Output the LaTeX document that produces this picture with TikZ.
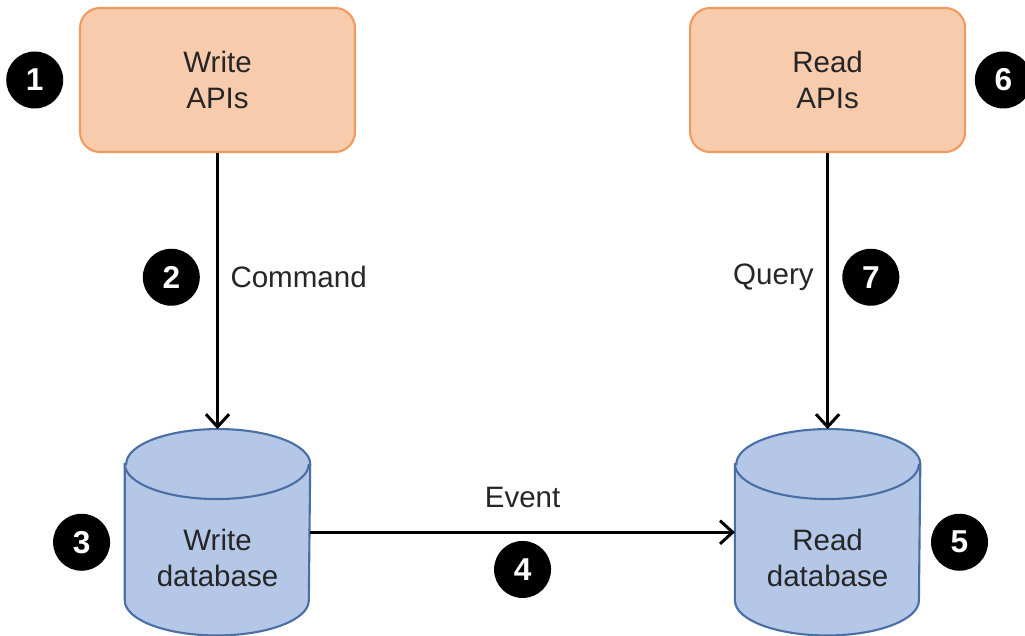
\documentclass[tikz,border=0pt]{standalone}
\usepackage{fontspec}
\setmainfont{Liberation Sans}
\usetikzlibrary{positioning,calc,arrows.meta}

\definecolor{apifill}{HTML}{F8CBAD}
\definecolor{apiline}{HTML}{F19A5E}
\definecolor{dbfill}{HTML}{B4C7E7}
\definecolor{dbline}{HTML}{4A6FA5}
\definecolor{txt}{HTML}{262626}

\tikzset{
	api/.style={draw=apiline, fill=apifill, line width=0.6pt, rounded corners=0.2cm,
		minimum width=2.75cm, minimum height=1.44cm, align=center, text=txt},
	db/.style={minimum width=1.84cm, minimum height=2.05cm, inner sep=0pt},
	dbtext/.style={align=center, text=txt},
	num/.style={circle, fill=black, text=white, minimum size=0.57cm, inner sep=0pt,
		font=\bfseries\fontsize{9}{9}\selectfont},
	flow/.style={-{Straight Barb[length=3.6pt, width=6.6pt]}, line width=0.85pt},
	lbl/.style={text=txt, inner sep=1pt}
}

% cylinder drawn round a named rectangle node
\newcommand{\drawdb}[1]{
	\filldraw[fill=dbfill, draw=dbline, line width=0.6pt]
		($(#1.north west)+(0,-0.35)$) -- ($(#1.south west)+(0,0.35)$)
		arc (180:360:0.92 and 0.35) -- ($(#1.north east)+(0,-0.35)$)
		arc (0:180:0.92 and 0.35) -- cycle;
	\draw[dbline, line width=0.6pt] ($(#1.north west)+(0,-0.35)$) arc (180:360:0.92 and 0.35);
}

\begin{document}
\begin{tikzpicture}[font=\fontsize{8.4}{10.2}\selectfont]
	\useasboundingbox (0,0) rectangle (10.25,6.35);
	\node[api] (wapi) at (2.175,5.55) {Write\\APIs};
	\node[api, right=3.33cm of wapi] (rapi) {Read\\APIs};
	\node[db, below=2.76cm of wapi] (wdb) {};
	\node[db, below=2.76cm of rapi] (rdb) {};
	\drawdb{wdb}
	\drawdb{rdb}
	\node[dbtext] (wdbtext) at ($(wdb.center)+(0,-0.26)$) {Write\\database};
	\node[dbtext] (rdbtext) at ($(rdb.center)+(0,-0.26)$) {Read\\database};
	%
	\draw[flow] (wapi) -- (wdb) node[pos=0.45, right=0.08cm, lbl] (cmd) {Command}
		coordinate[pos=0.45] (cmdmid);
	\draw[flow] (rapi) -- (rdb) node[pos=0.45, left=0.09cm, lbl] (qry) {Query}
		coordinate[pos=0.45] (qrymid);
	\draw[flow] (wdb) -- (rdb) coordinate[midway] (evmid);
	\node[lbl, above=0.2cm of evmid] (evt) {Event};
	%
	\node[num, left=0.15cm of wapi] (n1) {1};
	\node[num, left=0.17cm of cmdmid] (n2) {2};
	\node[num, left=0.14cm of wdb, yshift=-0.1cm] (n3) {3};
	\node[num, below=0.08cm of evmid] (n4) {4};
	\node[num, right=0.1cm of rdb, yshift=-0.1cm] (n5) {5};
	\node[num, right=0.08cm of rapi] (n6) {6};
	\node[num, right=0.14cm of qrymid] (n7) {7};
\end{tikzpicture}
\end{document}
